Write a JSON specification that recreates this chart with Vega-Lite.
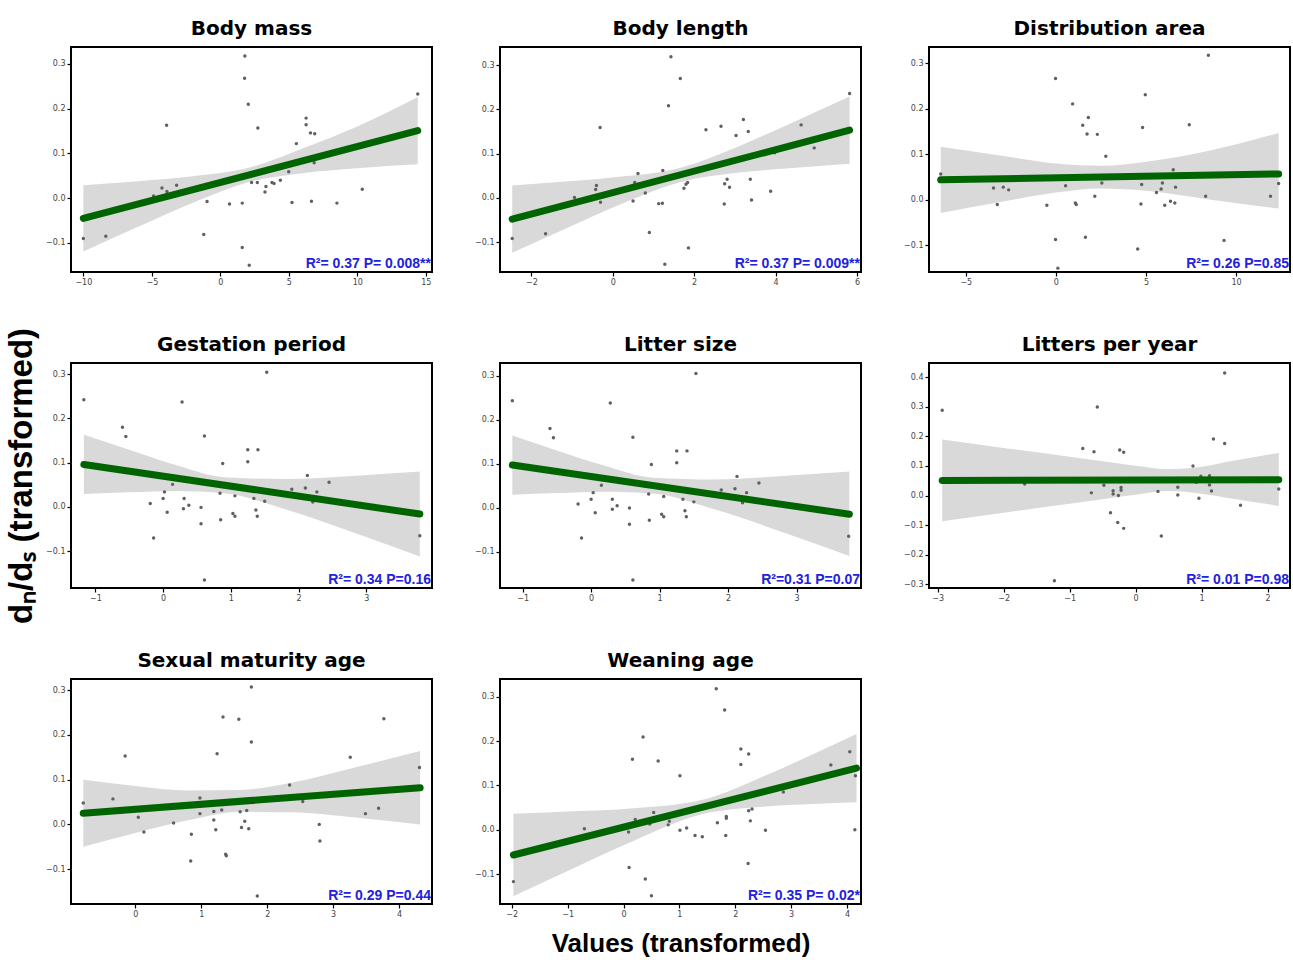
{
"$schema": "https://vega.github.io/schema/vega-lite/v6.json",
"background": "white",
"padding": {"left": 4, "top": 18, "right": 0, "bottom": 0},
"bounds": "flush",
"columns": 3,
"spacing": {"row": 91, "column": 68},
"datasets": {
"p1_pts": [{"x":-10,"y":-0.090},{"x":-8.36,"y":-0.085},{"x":-3.92,"y":0.163},{"x":-4.26,"y":0.023},{"x":-4.87,"y":0.005},{"x":-3.9,"y":0.015},{"x":-3.19,"y":0.029},{"x":-1.21,"y":-0.081},{"x":-0.97,"y":-0.0075},{"x":0.67,"y":-0.013},{"x":1.6,"y":-0.011},{"x":1.6,"y":-0.110},{"x":1.79,"y":0.318},{"x":1.77,"y":0.268},{"x":2.04,"y":0.210},{"x":2.11,"y":-0.150},{"x":2.28,"y":0.035},{"x":2.74,"y":0.157},{"x":2.7,"y":0.035},{"x":3.26,"y":0.014},{"x":3.33,"y":0.026},{"x":3.77,"y":0.035},{"x":3.92,"y":0.033},{"x":4.38,"y":0.040},{"x":4.99,"y":0.059},{"x":5.23,"y":-0.0098},{"x":5.55,"y":0.122},{"x":6.26,"y":0.179},{"x":6.26,"y":0.164},{"x":6.58,"y":0.146},{"x":6.89,"y":0.144},{"x":6.85,"y":0.079},{"x":6.65,"y":-0.0068},{"x":8.51,"y":-0.011},{"x":10.36,"y":0.020},{"x":14.41,"y":0.233}],
"p1_fit": [{"x":-10,"y":-0.045},{"x":14.41,"y":0.151}],
"p1_band": [{"x":-10,"lo":-0.119,"hi":0.029},{"x":-6,"lo":-0.064,"hi":0.038},{"x":-2,"lo":-0.010,"hi":0.049},{"x":2.2,"lo":0.037,"hi":0.069},{"x":6,"lo":0.056,"hi":0.111},{"x":10,"lo":0.067,"hi":0.160},{"x":14.41,"lo":0.076,"hi":0.226}],
"p1_lab": [{"label":"R²= 0.37 P= 0.008**"}],
"p2_pts": [{"x":-2.47,"y":-0.092},{"x":-1.65,"y":-0.081},{"x":-0.94,"y":0.001},{"x":-0.40,"y":0.028},{"x":-0.42,"y":0.019},{"x":-0.30,"y":-0.010},{"x":-0.31,"y":0.159},{"x":0.50,"y":-0.007},{"x":0.54,"y":0.035},{"x":0.62,"y":0.055},{"x":0.80,"y":0.011},{"x":0.90,"y":-0.078},{"x":1.13,"y":-0.013},{"x":1.22,"y":-0.012},{"x":1.23,"y":0.062},{"x":1.28,"y":-0.150},{"x":1.37,"y":0.208},{"x":1.43,"y":0.319},{"x":1.66,"y":0.270},{"x":1.75,"y":0.022},{"x":1.80,"y":0.031},{"x":1.84,"y":0.035},{"x":1.86,"y":-0.113},{"x":2.29,"y":0.154},{"x":2.66,"y":0.162},{"x":2.75,"y":0.032},{"x":2.74,"y":-0.014},{"x":2.81,"y":0.042},{"x":2.87,"y":0.024},{"x":3.03,"y":0.141},{"x":3.21,"y":0.177},{"x":3.33,"y":0.150},{"x":3.38,"y":0.042},{"x":3.41,"y":-0.005},{"x":3.88,"y":0.015},{"x":3.98,"y":0.102},{"x":4.63,"y":0.165},{"x":4.95,"y":0.113},{"x":5.82,"y":0.236}],
"p2_fit": [{"x":-2.47,"y":-0.048},{"x":5.82,"y":0.153}],
"p2_band": [{"x":-2.47,"lo":-0.124,"hi":0.028},{"x":-1,"lo":-0.063,"hi":0.038},{"x":0,"lo":-0.022,"hi":0.046},{"x":1.67,"lo":0.036,"hi":0.068},{"x":3,"lo":0.056,"hi":0.113},{"x":4.5,"lo":0.068,"hi":0.174},{"x":5.82,"lo":0.077,"hi":0.229}],
"p2_lab": [{"label":"R²= 0.37 P= 0.009**"}],
"p3_pts": [{"x":-6.39,"y":0.057},{"x":-3.46,"y":0.026},{"x":-3.25,"y":-0.010},{"x":-2.92,"y":0.028},{"x":-2.62,"y":0.022},{"x":-0.50,"y":-0.012},{"x":-0.02,"y":0.267},{"x":-0.02,"y":-0.087},{"x":0.11,"y":-0.150},{"x":0.54,"y":0.031},{"x":0.93,"y":0.211},{"x":1.08,"y":-0.007},{"x":1.13,"y":-0.010},{"x":1.49,"y":0.164},{"x":1.64,"y":-0.082},{"x":1.73,"y":0.145},{"x":1.80,"y":0.181},{"x":2.16,"y":0.008},{"x":2.30,"y":0.144},{"x":2.55,"y":0.037},{"x":2.77,"y":0.096},{"x":4.54,"y":-0.108},{"x":4.72,"y":-0.009},{"x":4.76,"y":0.034},{"x":4.81,"y":0.159},{"x":4.96,"y":0.231},{"x":5.58,"y":0.016},{"x":5.84,"y":0.024},{"x":5.91,"y":0.037},{"x":6.04,"y":-0.012},{"x":6.36,"y":-0.003},{"x":6.51,"y":0.066},{"x":6.60,"y":-0.007},{"x":6.64,"y":0.028},{"x":7.40,"y":0.165},{"x":8.31,"y":0.008},{"x":8.46,"y":0.318},{"x":9.33,"y":-0.089},{"x":11.91,"y":0.008},{"x":12.36,"y":0.036}],
"p3_fit": [{"x":-6.39,"y":0.044},{"x":12.36,"y":0.057}],
"p3_band": [{"x":-6.39,"lo":-0.029,"hi":0.117},{"x":-3,"lo":-0.004,"hi":0.097},{"x":0,"lo":0.016,"hi":0.080},{"x":2.5,"lo":0.025,"hi":0.075},{"x":5,"lo":0.020,"hi":0.084},{"x":8.5,"lo":0.001,"hi":0.108},{"x":12.36,"lo":-0.019,"hi":0.147}],
"p3_lab": [{"label":"R²= 0.26 P=0.85"}],
"p4_pts": [{"x":-1.17,"y":0.242},{"x":-0.60,"y":0.180},{"x":-0.55,"y":0.159},{"x":-0.19,"y":0.008},{"x":-0.14,"y":-0.070},{"x":0.00,"y":0.019},{"x":0.02,"y":0.034},{"x":0.06,"y":-0.012},{"x":0.14,"y":0.051},{"x":0.28,"y":0.237},{"x":0.30,"y":-0.004},{"x":0.31,"y":0.019},{"x":0.38,"y":0.004},{"x":0.56,"y":-0.001},{"x":0.56,"y":-0.038},{"x":0.61,"y":0.160},{"x":0.61,"y":-0.165},{"x":0.84,"y":0.031},{"x":0.85,"y":-0.029},{"x":0.88,"y":0.098},{"x":1.03,"y":-0.015},{"x":1.06,"y":0.025},{"x":1.06,"y":-0.021},{"x":1.25,"y":0.129},{"x":1.25,"y":0.102},{"x":1.34,"y":0.019},{"x":1.37,"y":-0.007},{"x":1.39,"y":-0.021},{"x":1.40,"y":0.129},{"x":1.50,"y":0.013},{"x":1.53,"y":0.304},{"x":1.90,"y":0.040},{"x":2.10,"y":0.043},{"x":2.13,"y":0.071},{"x":2.21,"y":0.011},{"x":2.27,"y":0.034},{"x":2.45,"y":0.056},{"x":3.79,"y":-0.065}],
"p4_fit": [{"x":-1.17,"y":0.096},{"x":3.79,"y":-0.016}],
"p4_band": [{"x":-1.17,"lo":0.029,"hi":0.163},{"x":-0.5,"lo":0.033,"hi":0.129},{"x":0.2,"lo":0.036,"hi":0.094},{"x":0.9,"lo":0.031,"hi":0.067},{"x":1.8,"lo":-0.005,"hi":0.063},{"x":2.8,"lo":-0.057,"hi":0.070},{"x":3.79,"lo":-0.112,"hi":0.080}],
"p4_lab": [{"label":"R²= 0.34 P=0.16"}],
"p5_pts": [{"x":-1.15,"y":0.243},{"x":-0.60,"y":0.180},{"x":-0.55,"y":0.159},{"x":-0.19,"y":0.008},{"x":-0.14,"y":-0.069},{"x":0.00,"y":0.019},{"x":0.03,"y":0.034},{"x":0.06,"y":-0.012},{"x":0.15,"y":0.051},{"x":0.28,"y":0.238},{"x":0.31,"y":-0.004},{"x":0.31,"y":0.019},{"x":0.38,"y":0.004},{"x":0.56,"y":-0.001},{"x":0.56,"y":-0.038},{"x":0.61,"y":0.160},{"x":0.61,"y":-0.165},{"x":0.84,"y":0.031},{"x":0.85,"y":-0.029},{"x":0.88,"y":0.098},{"x":1.03,"y":-0.015},{"x":1.06,"y":0.025},{"x":1.06,"y":-0.021},{"x":1.25,"y":0.129},{"x":1.25,"y":0.102},{"x":1.34,"y":0.019},{"x":1.37,"y":-0.007},{"x":1.39,"y":-0.021},{"x":1.40,"y":0.129},{"x":1.50,"y":0.013},{"x":1.53,"y":0.305},{"x":1.90,"y":0.040},{"x":2.10,"y":0.043},{"x":2.13,"y":0.071},{"x":2.21,"y":0.011},{"x":2.27,"y":0.034},{"x":2.45,"y":0.056},{"x":3.76,"y":-0.065}],
"p5_fit": [{"x":-1.15,"y":0.097},{"x":3.77,"y":-0.015}],
"p5_band": [{"x":-1.15,"lo":0.029,"hi":0.164},{"x":-0.5,"lo":0.033,"hi":0.130},{"x":0.2,"lo":0.036,"hi":0.095},{"x":0.9,"lo":0.032,"hi":0.068},{"x":1.8,"lo":-0.004,"hi":0.064},{"x":2.8,"lo":-0.056,"hi":0.072},{"x":3.77,"lo":-0.110,"hi":0.082}],
"p5_lab": [{"label":"R²=0.31 P=0.07"}],
"p6_pts": [{"x":-2.93,"y":0.288},{"x":-1.68,"y":0.039},{"x":-1.23,"y":-0.288},{"x":-0.80,"y":0.159},{"x":-0.67,"y":0.009},{"x":-0.63,"y":0.148},{"x":-0.58,"y":0.299},{"x":-0.48,"y":0.035},{"x":-0.38,"y":-0.058},{"x":-0.34,"y":0.016},{"x":-0.34,"y":0.005},{"x":-0.27,"y":-0.091},{"x":-0.26,"y":0.000},{"x":-0.24,"y":0.154},{"x":-0.22,"y":0.027},{"x":-0.22,"y":0.018},{"x":-0.18,"y":-0.111},{"x":-0.18,"y":0.146},{"x":0.34,"y":0.014},{"x":0.39,"y":-0.137},{"x":0.64,"y":0.028},{"x":0.64,"y":0.002},{"x":0.87,"y":0.100},{"x":0.92,"y":0.045},{"x":0.96,"y":-0.009},{"x":0.99,"y":0.065},{"x":1.12,"y":0.067},{"x":1.12,"y":0.036},{"x":1.15,"y":0.015},{"x":1.18,"y":0.191},{"x":1.35,"y":0.414},{"x":1.35,"y":0.176},{"x":1.59,"y":-0.033},{"x":2.17,"y":0.022}],
"p6_fit": [{"x":-2.93,"y":0.051},{"x":2.17,"y":0.053}],
"p6_band": [{"x":-2.93,"lo":-0.087,"hi":0.189},{"x":-2,"lo":-0.058,"hi":0.161},{"x":-1,"lo":-0.028,"hi":0.131},{"x":0,"lo":0.003,"hi":0.101},{"x":0.5,"lo":0.015,"hi":0.089},{"x":1.0,"lo":0.006,"hi":0.097},{"x":1.5,"lo":-0.012,"hi":0.118},{"x":2.17,"lo":-0.035,"hi":0.144}],
"p6_lab": [{"label":"R²= 0.01 P=0.98"}],
"p7_pts": [{"x":-0.79,"y":0.048},{"x":-0.34,"y":0.057},{"x":-0.155,"y":0.153},{"x":0.045,"y":0.016},{"x":0.13,"y":-0.017},{"x":0.58,"y":0.003},{"x":0.85,"y":-0.022},{"x":0.84,"y":-0.082},{"x":0.98,"y":0.059},{"x":0.98,"y":0.024},{"x":1.19,"y":0.010},{"x":1.19,"y":0.029},{"x":1.22,"y":-0.012},{"x":1.24,"y":0.158},{"x":1.31,"y":0.032},{"x":1.33,"y":0.240},{"x":1.37,"y":-0.067},{"x":1.38,"y":-0.070},{"x":1.57,"y":0.235},{"x":1.59,"y":0.028},{"x":1.61,"y":-0.007},{"x":1.66,"y":0.007},{"x":1.69,"y":0.031},{"x":1.72,"y":-0.010},{"x":1.76,"y":0.307},{"x":1.76,"y":0.184},{"x":1.85,"y":-0.160},{"x":2.34,"y":0.088},{"x":2.54,"y":0.051},{"x":2.79,"y":0.000},{"x":2.80,"y":-0.037},{"x":3.26,"y":0.150},{"x":3.49,"y":0.024},{"x":3.69,"y":0.036},{"x":3.77,"y":0.236},{"x":4.31,"y":0.127}],
"p7_fit": [{"x":-0.79,"y":0.025},{"x":4.32,"y":0.082}],
"p7_band": [{"x":-0.79,"lo":-0.050,"hi":0.100},{"x":0,"lo":-0.019,"hi":0.086},{"x":0.8,"lo":0.009,"hi":0.076},{"x":1.6,"lo":0.028,"hi":0.077},{"x":2.4,"lo":0.027,"hi":0.094},{"x":3.3,"lo":0.016,"hi":0.126},{"x":4.32,"lo":0.000,"hi":0.164}],
"p7_lab": [{"label":"R²= 0.29 P=0.44"}],
"p8_pts": [{"x":-1.97,"y":-0.117},{"x":-0.70,"y":0.002},{"x":0.09,"y":-0.005},{"x":0.10,"y":-0.085},{"x":0.16,"y":0.159},{"x":0.21,"y":0.023},{"x":0.35,"y":0.209},{"x":0.39,"y":-0.111},{"x":0.47,"y":0.013},{"x":0.50,"y":-0.149},{"x":0.54,"y":0.039},{"x":0.62,"y":0.155},{"x":0.80,"y":0.011},{"x":0.82,"y":0.019},{"x":1.01,"y":-0.001},{"x":1.01,"y":0.122},{"x":1.13,"y":0.004},{"x":1.28,"y":-0.013},{"x":1.41,"y":-0.016},{"x":1.66,"y":0.318},{"x":1.68,"y":0.016},{"x":1.81,"y":0.270},{"x":1.83,"y":-0.013},{"x":1.84,"y":0.030},{"x":1.84,"y":0.026},{"x":2.10,"y":0.182},{"x":2.10,"y":0.147},{"x":2.23,"y":-0.076},{"x":2.24,"y":0.171},{"x":2.24,"y":0.043},{"x":2.27,"y":0.020},{"x":2.30,"y":0.047},{"x":2.54,"y":-0.001},{"x":2.86,"y":0.085},{"x":3.71,"y":0.146},{"x":4.05,"y":0.176},{"x":4.15,"y":0.122},{"x":4.14,"y":0.000}],
"p8_fit": [{"x":-1.97,"y":-0.057},{"x":4.17,"y":0.139}],
"p8_band": [{"x":-1.97,"lo":-0.150,"hi":0.036},{"x":-1,"lo":-0.093,"hi":0.041},{"x":0,"lo":-0.035,"hi":0.047},{"x":1.4,"lo":0.035,"hi":0.067},{"x":2.5,"lo":0.052,"hi":0.120},{"x":3.4,"lo":0.058,"hi":0.171},{"x":4.17,"lo":0.062,"hi":0.216}],
"p8_lab": [{"label":"R²= 0.35 P= 0.02*"}]
},
"concat": [
{"title": "Body mass", "width": 361, "height": 225, "layer": [
 {"data": {"name": "p1_band"}, "mark": {"type": "area", "color": "#d9d9d9", "interpolate": "monotone"}, "encoding": {"x": {"field": "x", "type": "quantitative", "scale": {"domain": [-10.9, 15.45], "nice": false, "zero": false}, "axis": {"values": [-10, -5, 0, 5, 10, 15], "format": "d", "title": null}}, "y": {"field": "lo", "type": "quantitative", "scale": {"domain": [-0.165, 0.338], "nice": false, "zero": false}, "axis": {"values": [-0.1, 0, 0.1, 0.2, 0.3], "format": ".1f", "title": null}}, "y2": {"field": "hi"}}},
 {"data": {"name": "p1_pts"}, "mark": {"type": "circle", "color": "#606060", "size": 12, "opacity": 1}, "encoding": {"x": {"field": "x", "type": "quantitative"}, "y": {"field": "y", "type": "quantitative"}}},
 {"data": {"name": "p1_fit"}, "mark": {"type": "line", "color": "#006400", "strokeWidth": 7, "strokeCap": "round"}, "encoding": {"x": {"field": "x", "type": "quantitative"}, "y": {"field": "y", "type": "quantitative"}}},
 {"data": {"name": "p1_lab"}, "mark": {"type": "text", "align": "right", "baseline": "bottom", "color": "#2222dd", "font": "Liberation Sans", "fontWeight": "bold", "fontSize": 14, "dx": -1, "dy": -1}, "encoding": {"x": {"datum": 15.45}, "y": {"datum": -0.165}, "text": {"field": "label"}}}
]},
{"title": "Body length", "width": 361, "height": 225, "layer": [
 {"data": {"name": "p2_band"}, "mark": {"type": "area", "color": "#d9d9d9", "interpolate": "monotone"}, "encoding": {"x": {"field": "x", "type": "quantitative", "scale": {"domain": [-2.77, 6.1], "nice": false, "zero": false}, "axis": {"values": [-2, 0, 2, 4, 6], "format": "d", "title": null}}, "y": {"field": "lo", "type": "quantitative", "scale": {"domain": [-0.1675, 0.341], "nice": false, "zero": false}, "axis": {"values": [-0.1, 0, 0.1, 0.2, 0.3], "format": ".1f", "title": null}}, "y2": {"field": "hi"}}},
 {"data": {"name": "p2_pts"}, "mark": {"type": "circle", "color": "#606060", "size": 12, "opacity": 1}, "encoding": {"x": {"field": "x", "type": "quantitative"}, "y": {"field": "y", "type": "quantitative"}}},
 {"data": {"name": "p2_fit"}, "mark": {"type": "line", "color": "#006400", "strokeWidth": 7, "strokeCap": "round"}, "encoding": {"x": {"field": "x", "type": "quantitative"}, "y": {"field": "y", "type": "quantitative"}}},
 {"data": {"name": "p2_lab"}, "mark": {"type": "text", "align": "right", "baseline": "bottom", "color": "#2222dd", "font": "Liberation Sans", "fontWeight": "bold", "fontSize": 14, "dx": -1, "dy": -1}, "encoding": {"x": {"datum": 6.1}, "y": {"datum": -0.1675}, "text": {"field": "label"}}}
]},
{"title": "Distribution area", "width": 361, "height": 225, "layer": [
 {"data": {"name": "p3_band"}, "mark": {"type": "area", "color": "#d9d9d9", "interpolate": "monotone"}, "encoding": {"x": {"field": "x", "type": "quantitative", "scale": {"domain": [-7.04, 12.99], "nice": false, "zero": false}, "axis": {"values": [-5, 0, 5, 10], "format": "d", "title": null}}, "y": {"field": "lo", "type": "quantitative", "scale": {"domain": [-0.1585, 0.336], "nice": false, "zero": false}, "axis": {"values": [-0.1, 0, 0.1, 0.2, 0.3], "format": ".1f", "title": null}}, "y2": {"field": "hi"}}},
 {"data": {"name": "p3_pts"}, "mark": {"type": "circle", "color": "#606060", "size": 12, "opacity": 1}, "encoding": {"x": {"field": "x", "type": "quantitative"}, "y": {"field": "y", "type": "quantitative"}}},
 {"data": {"name": "p3_fit"}, "mark": {"type": "line", "color": "#006400", "strokeWidth": 7, "strokeCap": "round"}, "encoding": {"x": {"field": "x", "type": "quantitative"}, "y": {"field": "y", "type": "quantitative"}}},
 {"data": {"name": "p3_lab"}, "mark": {"type": "text", "align": "right", "baseline": "bottom", "color": "#2222dd", "font": "Liberation Sans", "fontWeight": "bold", "fontSize": 14, "dx": -1, "dy": -1}, "encoding": {"x": {"datum": 12.99}, "y": {"datum": -0.1585}, "text": {"field": "label"}}}
]},
{"title": {"text": "Gestation period", "dy": 36}, "width": 361, "height": 225, "layer": [
 {"data": {"name": "p4_band"}, "mark": {"type": "area", "color": "#d9d9d9", "interpolate": "monotone"}, "encoding": {"x": {"field": "x", "type": "quantitative", "scale": {"domain": [-1.36, 3.97], "nice": false, "zero": false}, "axis": {"values": [-1, 0, 1, 2, 3], "format": "d", "title": null}}, "y": {"field": "lo", "type": "quantitative", "scale": {"domain": [-0.183, 0.325], "nice": false, "zero": false}, "axis": {"values": [-0.1, 0, 0.1, 0.2, 0.3], "format": ".1f", "title": "dₙ/dₛ (transformed)", "titleFontSize": 33, "titlePadding": 7}}, "y2": {"field": "hi"}}},
 {"data": {"name": "p4_pts"}, "mark": {"type": "circle", "color": "#606060", "size": 12, "opacity": 1}, "encoding": {"x": {"field": "x", "type": "quantitative"}, "y": {"field": "y", "type": "quantitative"}}},
 {"data": {"name": "p4_fit"}, "mark": {"type": "line", "color": "#006400", "strokeWidth": 7, "strokeCap": "round"}, "encoding": {"x": {"field": "x", "type": "quantitative"}, "y": {"field": "y", "type": "quantitative"}}},
 {"data": {"name": "p4_lab"}, "mark": {"type": "text", "align": "right", "baseline": "bottom", "color": "#2222dd", "font": "Liberation Sans", "fontWeight": "bold", "fontSize": 14, "dx": -1, "dy": -1}, "encoding": {"x": {"datum": 3.97}, "y": {"datum": -0.183}, "text": {"field": "label"}}}
]},
{"title": "Litter size", "width": 361, "height": 225, "layer": [
 {"data": {"name": "p5_band"}, "mark": {"type": "area", "color": "#d9d9d9", "interpolate": "monotone"}, "encoding": {"x": {"field": "x", "type": "quantitative", "scale": {"domain": [-1.33, 3.94], "nice": false, "zero": false}, "axis": {"values": [-1, 0, 1, 2, 3], "format": "d", "title": null}}, "y": {"field": "lo", "type": "quantitative", "scale": {"domain": [-0.183, 0.329], "nice": false, "zero": false}, "axis": {"values": [-0.1, 0, 0.1, 0.2, 0.3], "format": ".1f", "title": null}}, "y2": {"field": "hi"}}},
 {"data": {"name": "p5_pts"}, "mark": {"type": "circle", "color": "#606060", "size": 12, "opacity": 1}, "encoding": {"x": {"field": "x", "type": "quantitative"}, "y": {"field": "y", "type": "quantitative"}}},
 {"data": {"name": "p5_fit"}, "mark": {"type": "line", "color": "#006400", "strokeWidth": 7, "strokeCap": "round"}, "encoding": {"x": {"field": "x", "type": "quantitative"}, "y": {"field": "y", "type": "quantitative"}}},
 {"data": {"name": "p5_lab"}, "mark": {"type": "text", "align": "right", "baseline": "bottom", "color": "#2222dd", "font": "Liberation Sans", "fontWeight": "bold", "fontSize": 14, "dx": -1, "dy": -1}, "encoding": {"x": {"datum": 3.94}, "y": {"datum": -0.183}, "text": {"field": "label"}}}
]},
{"title": "Litters per year", "width": 361, "height": 225, "layer": [
 {"data": {"name": "p6_band"}, "mark": {"type": "area", "color": "#d9d9d9", "interpolate": "monotone"}, "encoding": {"x": {"field": "x", "type": "quantitative", "scale": {"domain": [-3.13, 2.34], "nice": false, "zero": false}, "axis": {"values": [-3, -2, -1, 0, 1, 2], "format": "d", "title": null}}, "y": {"field": "lo", "type": "quantitative", "scale": {"domain": [-0.3126, 0.448], "nice": false, "zero": false}, "axis": {"values": [-0.3, -0.2, -0.1, 0, 0.1, 0.2, 0.3, 0.4], "tickCount": 12, "format": ".1f", "title": null}}, "y2": {"field": "hi"}}},
 {"data": {"name": "p6_pts"}, "mark": {"type": "circle", "color": "#606060", "size": 12, "opacity": 1}, "encoding": {"x": {"field": "x", "type": "quantitative"}, "y": {"field": "y", "type": "quantitative"}}},
 {"data": {"name": "p6_fit"}, "mark": {"type": "line", "color": "#006400", "strokeWidth": 7, "strokeCap": "round"}, "encoding": {"x": {"field": "x", "type": "quantitative"}, "y": {"field": "y", "type": "quantitative"}}},
 {"data": {"name": "p6_lab"}, "mark": {"type": "text", "align": "right", "baseline": "bottom", "color": "#2222dd", "font": "Liberation Sans", "fontWeight": "bold", "fontSize": 14, "dx": -1, "dy": -1}, "encoding": {"x": {"datum": 2.34}, "y": {"datum": -0.3126}, "text": {"field": "label"}}}
]},
{"title": "Sexual maturity age", "width": 361, "height": 225, "layer": [
 {"data": {"name": "p7_band"}, "mark": {"type": "area", "color": "#d9d9d9", "interpolate": "monotone"}, "encoding": {"x": {"field": "x", "type": "quantitative", "scale": {"domain": [-0.976, 4.5], "nice": false, "zero": false}, "axis": {"values": [0, 1, 2, 3, 4], "format": "d", "title": null}}, "y": {"field": "lo", "type": "quantitative", "scale": {"domain": [-0.178, 0.325], "nice": false, "zero": false}, "axis": {"values": [-0.1, 0, 0.1, 0.2, 0.3], "format": ".1f", "title": null}}, "y2": {"field": "hi"}}},
 {"data": {"name": "p7_pts"}, "mark": {"type": "circle", "color": "#606060", "size": 12, "opacity": 1}, "encoding": {"x": {"field": "x", "type": "quantitative"}, "y": {"field": "y", "type": "quantitative"}}},
 {"data": {"name": "p7_fit"}, "mark": {"type": "line", "color": "#006400", "strokeWidth": 7, "strokeCap": "round"}, "encoding": {"x": {"field": "x", "type": "quantitative"}, "y": {"field": "y", "type": "quantitative"}}},
 {"data": {"name": "p7_lab"}, "mark": {"type": "text", "align": "right", "baseline": "bottom", "color": "#2222dd", "font": "Liberation Sans", "fontWeight": "bold", "fontSize": 14, "dx": -1, "dy": -1}, "encoding": {"x": {"datum": 4.5}, "y": {"datum": -0.178}, "text": {"field": "label"}}}
]},
{"title": "Weaning age", "width": 361, "height": 225, "layer": [
 {"data": {"name": "p8_band"}, "mark": {"type": "area", "color": "#d9d9d9", "interpolate": "monotone"}, "encoding": {"x": {"field": "x", "type": "quantitative", "scale": {"domain": [-2.21, 4.25], "nice": false, "zero": false}, "axis": {"values": [-2, -1, 0, 1, 2, 3, 4], "tickCount": 12, "format": "d", "title": "Values (transformed)", "titleFontSize": 26, "titlePadding": 12}}, "y": {"field": "lo", "type": "quantitative", "scale": {"domain": [-0.1675, 0.340], "nice": false, "zero": false}, "axis": {"values": [-0.1, 0, 0.1, 0.2, 0.3], "format": ".1f", "title": null}}, "y2": {"field": "hi"}}},
 {"data": {"name": "p8_pts"}, "mark": {"type": "circle", "color": "#606060", "size": 12, "opacity": 1}, "encoding": {"x": {"field": "x", "type": "quantitative"}, "y": {"field": "y", "type": "quantitative"}}},
 {"data": {"name": "p8_fit"}, "mark": {"type": "line", "color": "#006400", "strokeWidth": 7, "strokeCap": "round"}, "encoding": {"x": {"field": "x", "type": "quantitative"}, "y": {"field": "y", "type": "quantitative"}}},
 {"data": {"name": "p8_lab"}, "mark": {"type": "text", "align": "right", "baseline": "bottom", "color": "#2222dd", "font": "Liberation Sans", "fontWeight": "bold", "fontSize": 14, "dx": -1, "dy": -1}, "encoding": {"x": {"datum": 4.25}, "y": {"datum": -0.1675}, "text": {"field": "label"}}}
]}
],
"config": {
 "view": {"stroke": "black", "strokeWidth": 2},
 "axis": {"grid": false, "domain": false, "labelOverlap": false, "labelFlush": false, "labelFont": "DejaVu Sans", "labelFontSize": 8, "labelColor": "#444444", "tickColor": "#000000", "tickSize": 4, "tickWidth": 1.2, "labelPadding": 2, "titleFont": "Liberation Sans", "titleFontWeight": "bold", "titleColor": "#000000"},
 "title": {"font": "DejaVu Sans", "fontSize": 20, "fontWeight": "bold", "color": "#000000", "offset": 8, "frame": "group"}
}
}
